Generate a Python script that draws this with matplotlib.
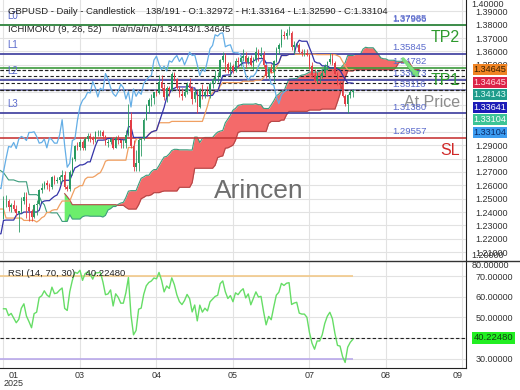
import numpy as np
import matplotlib
matplotlib.use("Agg")
import matplotlib.pyplot as plt
import matplotlib.transforms as mtransforms
from matplotlib.lines import Line2D

plt.rcParams['font.family'] = ['Liberation Sans', 'DejaVu Sans']

# 53 bars before the visible window (8 Nov 2024 - 23 Jan 2025), only feed the indicators
hist_close = [1.2915, 1.2860, 1.2755, 1.2700, 1.2665, 1.2615, 1.2665, 1.2680, 1.2665, 1.2590,
              1.2530, 1.2535, 1.2570, 1.2675, 1.2690, 1.2735, 1.2660, 1.2670, 1.2705, 1.2750,
              1.2745, 1.2765, 1.2765, 1.2750, 1.2660, 1.2620, 1.2685, 1.2715, 1.2580, 1.2500,
              1.2565, 1.2535, 1.2525, 1.2510, 1.2580, 1.2550, 1.2515, 1.2385, 1.2420, 1.2515,
              1.2485, 1.2340, 1.2300, 1.2205, 1.2200, 1.2210, 1.2240, 1.2235, 1.2170, 1.2320,
              1.2350, 1.2310, 1.2345]
hist_high = [1.2975, 1.2930, 1.2880, 1.2770, 1.2720, 1.2710, 1.2680, 1.2710, 1.2730, 1.2680,
             1.2605, 1.2600, 1.2600, 1.2690, 1.2720, 1.2750, 1.2745, 1.2690, 1.2730, 1.2770,
             1.2810, 1.2780, 1.2790, 1.2800, 1.2770, 1.2680, 1.2700, 1.2725, 1.2745, 1.2610,
             1.2590, 1.2605, 1.2560, 1.2545, 1.2590, 1.2610, 1.2560, 1.2535, 1.2445, 1.2575,
             1.2575, 1.2490, 1.2365, 1.2330, 1.2235, 1.2245, 1.2320, 1.2290, 1.2255, 1.2350,
             1.2375, 1.2375, 1.2370]
hist_low = [1.2895, 1.2855, 1.2740, 1.2690, 1.2630, 1.2600, 1.2595, 1.2630, 1.2650, 1.2575,
            1.2487, 1.2520, 1.2480, 1.2560, 1.2670, 1.2670, 1.2615, 1.2610, 1.2635, 1.2680,
            1.2725, 1.2715, 1.2715, 1.2735, 1.2650, 1.2615, 1.2610, 1.2655, 1.2570, 1.2475,
            1.2475, 1.2525, 1.2505, 1.2495, 1.2500, 1.2525, 1.2505, 1.2350, 1.2355, 1.2405,
            1.2465, 1.2325, 1.2240, 1.2200, 1.2100, 1.2160, 1.2185, 1.2195, 1.2160, 1.2155,
            1.2225, 1.2295, 1.2285]

# visible daily bars, 24 Jan - 5 Aug 2025
close = [1.2480, 1.2480, 1.2435, 1.2450, 1.2420, 1.2390, 1.2410, 1.2480, 1.2510, 1.2440,
         1.2405, 1.2365, 1.2450, 1.2460, 1.2565, 1.2580, 1.2620, 1.2600, 1.2590, 1.2665,
         1.2635, 1.2640, 1.2660, 1.2675, 1.2585, 1.2575, 1.2700, 1.2800, 1.2890, 1.2885,
         1.2920, 1.2875, 1.2945, 1.2965, 1.2955, 1.2935, 1.2995, 1.2995, 1.3000, 1.2965,
         1.2915, 1.2920, 1.2945, 1.2880, 1.2955, 1.2940, 1.2915, 1.2915, 1.2975, 1.3090,
         1.2895, 1.2735, 1.2765, 1.2935, 1.2945, 1.3085, 1.3190, 1.3235, 1.3255, 1.3295,
         1.3290, 1.3375, 1.3330, 1.3260, 1.3325, 1.3310, 1.3435, 1.3395, 1.3330, 1.3285,
         1.3265, 1.3300, 1.3355, 1.3330, 1.3245, 1.3300, 1.3185, 1.3320, 1.3265, 1.3300,
         1.3280, 1.3360, 1.3385, 1.3410, 1.3420, 1.3535, 1.3565, 1.3505, 1.3465, 1.3490,
         1.3455, 1.3530, 1.3520, 1.3550, 1.3570, 1.3525, 1.3555, 1.3500, 1.3545, 1.3595,
         1.3570, 1.3575, 1.3500, 1.3420, 1.3470, 1.3450, 1.3530, 1.3620, 1.3645, 1.3725,
         1.3715, 1.3735, 1.3740, 1.3635, 1.3645, 1.3650, 1.3595, 1.3590, 1.3590, 1.3575,
         1.3495, 1.3425, 1.3380, 1.3415, 1.3415, 1.3440, 1.3490, 1.3525, 1.3545, 1.3515,
         1.3435, 1.3355, 1.3350, 1.3265, 1.3210, 1.3275, 1.32972, 1.33104]
high = [1.2520, 1.2525, 1.2495, 1.2470, 1.2490, 1.2450, 1.2410, 1.2510, 1.2550, 1.2550,
        1.2470, 1.2420, 1.2460, 1.2490, 1.2575, 1.2615, 1.2635, 1.2640, 1.2620, 1.2670,
        1.2680, 1.2665, 1.2680, 1.2715, 1.2710, 1.2600, 1.2715, 1.2810, 1.2900, 1.2920,
        1.2945, 1.2935, 1.2960, 1.2990, 1.2990, 1.2970, 1.3005, 1.3015, 1.3015, 1.3010,
        1.2975, 1.2945, 1.2960, 1.2960, 1.2970, 1.2975, 1.2945, 1.2945, 1.3010, 1.3205,
        1.3150, 1.2935, 1.2865, 1.2950, 1.2960, 1.3100, 1.3205, 1.3250, 1.3285, 1.3300,
        1.3310, 1.3425, 1.3425, 1.3355, 1.3340, 1.3345, 1.3445, 1.3445, 1.3405, 1.3345,
        1.3330, 1.3325, 1.3375, 1.3400, 1.3345, 1.3320, 1.3310, 1.3325, 1.3355, 1.3320,
        1.3345, 1.3370, 1.3405, 1.3465, 1.3450, 1.3545, 1.3595, 1.3590, 1.3525, 1.3525,
        1.3510, 1.3555, 1.3560, 1.3565, 1.3615, 1.3595, 1.3570, 1.3575, 1.3560, 1.3630,
        1.3620, 1.3630, 1.3600, 1.3500, 1.3480, 1.3510, 1.3540, 1.3635, 1.3665, 1.3770,
        1.3755, 1.3770, 1.3788, 1.3750, 1.3680, 1.3665, 1.3660, 1.3620, 1.3615, 1.3620,
        1.3580, 1.3520, 1.3470, 1.3445, 1.3435, 1.3470, 1.3505, 1.3530, 1.3590, 1.3585,
        1.3530, 1.3450, 1.3380, 1.3375, 1.3285, 1.3285, 1.3310, 1.33164]
low = [1.2345, 1.2435, 1.2410, 1.2400, 1.2405, 1.2370, 1.2250, 1.2395, 1.2460, 1.2355,
       1.2330, 1.2335, 1.2355, 1.2375, 1.2450, 1.2545, 1.2575, 1.2570, 1.2560, 1.2570,
       1.2610, 1.2620, 1.2610, 1.2630, 1.2575, 1.2560, 1.2560, 1.2680, 1.2780, 1.2860,
       1.2860, 1.2860, 1.2865, 1.2930, 1.2925, 1.2905, 1.2920, 1.2965, 1.2965, 1.2945,
       1.2900, 1.2885, 1.2905, 1.2870, 1.2875, 1.2905, 1.2875, 1.2880, 1.2880, 1.2970,
       1.2880, 1.2710, 1.2710, 1.2710, 1.2820, 1.2940, 1.3085, 1.3140, 1.3190, 1.3205,
       1.3265, 1.3280, 1.3315, 1.3235, 1.3225, 1.3265, 1.3305, 1.3380, 1.3320, 1.3260,
       1.3240, 1.3260, 1.3285, 1.3305, 1.3210, 1.3225, 1.3140, 1.3180, 1.3245, 1.3250,
       1.3265, 1.3255, 1.3330, 1.3365, 1.3375, 1.3410, 1.3525, 1.3450, 1.3440, 1.3415,
       1.3440, 1.3450, 1.3475, 1.3495, 1.3530, 1.3480, 1.3505, 1.3490, 1.3465, 1.3520,
       1.3530, 1.3550, 1.3485, 1.3400, 1.3400, 1.3440, 1.3370, 1.3525, 1.3580, 1.3635,
       1.3690, 1.3690, 1.3720, 1.3610, 1.3580, 1.3630, 1.3585, 1.3565, 1.3565, 1.3565,
       1.3470, 1.3410, 1.3370, 1.3365, 1.3365, 1.3405, 1.3425, 1.3465, 1.3505, 1.3500,
       1.3430, 1.3350, 1.3330, 1.3260, 1.3195, 1.3141, 1.3250, 1.32590]

month_ticks = [0, 30, 60, 90, 120, 150, 180]
month_labels = ['01\n2025', '03', '04', '05', '07', '08', '09']

level_prices = [1.37985, 1.37966, 1.35845, 1.34782, 1.33873, 1.33116, 1.31380, 1.29557]
level_names = ['L0', 'TP2', 'L1', 'TP1', 'L2', 'At Price', 'L3', 'SL']
level_colors = ['#3a3a9c', '#3c9a3c', '#3a3a9c', '#3c9a3c', '#3a3a9c', '#6c6ca8', '#3a3a9c', '#c83a3a']
name_colors = ['#5a6acc', '#2e9a2e', '#5a6acc', '#2e9a2e', '#5a6acc', '#8c8c8c', '#5a6acc', '#d02828']

box_values = [1.34645, 1.34645, 1.34143, 1.33641, 1.33104, 1.33104]
box_colors = ['#f08424', '#dc2448', '#1e9c8c', '#1c1cb8', '#3cc496', '#3c9cf0']
box_text = ['#3a2000', '#ffe0e6', '#e0fff8', '#ffffff', '#ffffff', '#0a2a6a']

rsi_last = 40.22480
arrow_x = [156.7, 162.2]
arrow_y = [1.3544, 1.3424]

header = "GBPUSD - Daily - Candlestick    138/191 - O:1.32972 - H:1.33164 - L:1.32590 - C:1.33104"
ichi_text = "ICHIMOKU (9, 26, 52)    n/a/n/a/n/a/1.34143/1.34645"
rsi_text = "RSI (14, 70, 30)    40.22480"

# ---- indicators ----
C = np.array(hist_close + close)
H = np.array(hist_high + high)
L = np.array(hist_low + low)
n_hist = len(hist_close)
x = np.arange(len(C)) - n_hist
O = np.r_[C[0], C[:-1]]


def midpoint(n):
    out = np.full(len(C), np.nan)
    for i in range(n - 1, len(C)):
        out[i] = (H[i - n + 1:i + 1].max() + L[i - n + 1:i + 1].min()) / 2
    return out


tenkan = midpoint(9)
kijun = midpoint(26)
span_a = (tenkan + kijun) / 2
span_b = midpoint(52)

d = np.diff(C)
up = np.clip(d, 0, None)
dn = np.clip(-d, 0, None)
rsi = np.full(len(C), np.nan)
ag, al = up[:14].mean(), dn[:14].mean()
rsi[14] = 100 - 100 / (1 + ag / al)
for i in range(15, len(C)):
    ag = (ag * 13 + up[i - 1]) / 14
    al = (al * 13 + dn[i - 1]) / 14
    rsi[i] = 100 - 100 / (1 + ag / al)

# ---- figure ----
fig = plt.figure(figsize=(5.2, 3.9), dpi=100)
W, Hpx = 520, 390
right = 466 / W
ax = fig.add_axes([0, 1 - 260 / Hpx, right, 260 / Hpx])
ax_r = fig.add_axes([0, 1 - 368 / Hpx, right, (368 - 261) / Hpx])

xmin, xmax = -1.37, 181.4
grid_c = '#e2e2e2'
for a in (ax, ax_r):
    a.set_xlim(xmin, xmax)
    a.set_xticks(month_ticks)
    a.grid(True, color=grid_c, lw=0.8, zorder=0)
    a.set_axisbelow(True)
    a.yaxis.tick_right()
    a.tick_params(length=0, labelsize=6.5, labelcolor='#333333')
    a.tick_params(axis='y', pad=7)
    for s in ('left', 'top', 'bottom'):
        a.spines[s].set_visible(False)
    a.spines['right'].set_color('#222222')

# main price panel
ax.set_ylim(1.20416, 1.39848)
yt = np.round(np.arange(1.21, 1.395, 0.01), 2)
ax.set_yticks(yt)
# the value boxes hide the scale labels from 1.30 to 1.34
ax.set_yticklabels(['' if 1.295 < v < 1.345 else f'{v:.5f}' for v in yt])
ax.tick_params(axis='x', labelbottom=False)

xs = x + 26
ax.fill_between(xs, span_a, span_b, where=span_a > span_b, interpolate=True,
                color='#f46a6a', lw=0, zorder=1)
ax.fill_between(xs, span_a, span_b, where=span_a < span_b, interpolate=True,
                color='#6cee6c', lw=0, zorder=1)
ax.plot(xs, span_a, color='#3c9c7c', lw=0.8, zorder=2)
ax.plot(xs, span_b, color='#b44848', lw=0.8, zorder=2)

for p, c in zip(level_prices, level_colors):
    ax.axhline(p, color=c, lw=1.2, zorder=2.5)
for v in box_values:
    ax.axhline(v, color='#222222', lw=0.8, ls=(0, (3, 2)), zorder=2.5)

ax.plot(x - 26, C, color='#64aee6', lw=0.9, zorder=3)
ax.plot(x, kijun, color='#f0a062', lw=0.9, zorder=3)
ax.plot(x, tenkan, color='#3434a8', lw=0.9, zorder=3)

vis = x >= 0
xv, Ov, Cv, Hv, Lv = x[vis], O[vis], C[vis], H[vis], L[vis]
cols = np.where(Cv >= Ov, '#2a9a62', '#e23c44')
ax.vlines(xv, Lv, Hv, colors=cols, lw=0.6, zorder=4)
ax.bar(xv, Cv - Ov, bottom=Ov, width=0.6, color=cols, lw=0, zorder=4)

ax.plot(arrow_x, arrow_y, color='#7ee07e', lw=2.5, solid_capstyle='round', zorder=5)

for p, name, nc in zip(level_prices, level_names, name_colors):
    if name.startswith('L'):
        ax.annotate(name, xy=(1.4, p), xytext=(0, 6.5), textcoords='offset points',
                    ha='left', va='center', fontsize=7, color=nc)
    else:
        ax.annotate(name, xy=(179, p), xytext=(0, -9), textcoords='offset points',
                    ha='right', va='center', fontsize=11.5, color=nc)
    ax.annotate(f'{p:.5f}', xy=(152.4, p), xytext=(0, 4.3), textcoords='offset points',
                ha='left', va='center', fontsize=6.8, color='#5a6acc')

# stacked value boxes on the price scale
trans = mtransforms.blended_transform_factory(ax.transAxes, ax.transData)
for k, (v, bc, tc) in enumerate(zip(box_values, box_colors, box_text)):
    ax.annotate(f'{v:.5f}', xy=(1, box_values[0]), xycoords=trans,
                xytext=(5.5, -9.0 * k), textcoords='offset points',
                ha='left', va='center', fontsize=6.6, color=tc, annotation_clip=False,
                bbox=dict(boxstyle='square,pad=0.1', fc=bc, ec='none'))

ax.text(1.012, 1.0, '1.40000', transform=ax.transAxes, ha='left', va='top',
        fontsize=6.5, color='#333333')
ax.text(1.012, 0.0, '1.20000', transform=ax.transAxes, ha='left', va='bottom',
        fontsize=6.5, color='#333333')

# rsi panel
ax_r.set_ylim(25.5, 77.3)
ax_r.set_yticks([30, 40, 50, 60, 70])
ax_r.set_yticklabels(['30.00000', '', '50.00000', '60.00000', '70.00000'])
ax_r.set_xticklabels(month_labels)
ax_r.tick_params(axis='x', pad=2)
tl = ax_r.get_xticklabels()
tl[0].set_ha('left')
tl[0].set_multialignment('center')
tl[0].set_linespacing(0.95)
tl[-1].set_ha('right')
ax_r.spines['bottom'].set_visible(True)
ax_r.spines['bottom'].set_color('#222222')
ax_r.hlines(70, xmin, xv[-1], color='#f2c98a', lw=1.2, zorder=2)
ax_r.hlines(30, xmin, xv[-1], color='#b9a8ea', lw=1.2, zorder=2)
ax_r.axhline(rsi_last, color='#222222', lw=0.8, ls=(0, (3, 2)), zorder=2)
ax_r.plot(xv, rsi[vis], color='#66dd66', lw=1, zorder=3)
ax_r.annotate(f'{rsi_last:.5f}', xy=(1, rsi_last), xycoords=ax_r.get_yaxis_transform(),
              xytext=(5.5, 0), textcoords='offset points', ha='left', va='center',
              fontsize=6.8, color='#104010', annotation_clip=False,
              bbox=dict(boxstyle='square,pad=0.15', fc='#22ee22', ec='none'))
ax_r.text(1.012, 1.0, '80.00000', transform=ax_r.transAxes, ha='left', va='top',
          fontsize=6.5, color='#333333')

# separator between panels
fig.add_artist(Line2D([0, 1], [1 - 261 / Hpx] * 2, color='#333333', lw=1))

fig.text(8 / W, 1 - 12 / Hpx, header, ha='left', va='center', fontsize=6.8, color='#222222')
fig.text(8 / W, 1 - 29 / Hpx, ichi_text, ha='left', va='center', fontsize=6.8, color='#222222')
fig.text(8 / W, 1 - 273 / Hpx, rsi_text, ha='left', va='center', fontsize=6.8, color='#222222')
fig.text(259 / W, 1 - 191 / Hpx, 'Arincen', ha='center', va='center', fontsize=19,
         color='#555555', alpha=0.85)

fig.savefig('out.png', dpi=100)
